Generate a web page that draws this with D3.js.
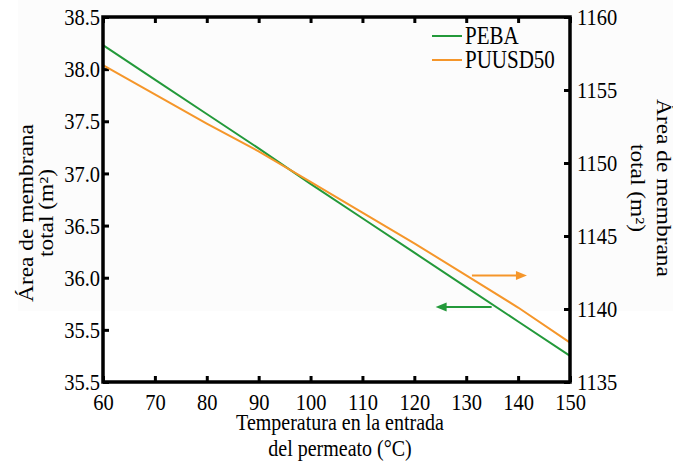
<!DOCTYPE html>
<html>
<head>
<meta charset="utf-8">
<script src="https://cdn.jsdelivr.net/npm/d3@7"></script>
<style>
  html, body { margin: 0; padding: 0; background: #fff; }
  svg { display: block; }
  svg text { font-family: "Liberation Serif", serif !important; }
</style>
</head>
<body>
<svg id="chart"></svg>
<script>
// data
const temps = [60, 70, 80, 90, 100, 110, 120, 130, 140, 150];
const pebaArea = [38.23, 37.90, 37.57, 37.24, 36.90, 36.57, 36.24, 35.91, 35.58, 35.25];
const puusdArea = [1156.7, 1154.7, 1152.7, 1150.8, 1148.7, 1146.6, 1144.5, 1142.3, 1140.1, 1137.7];

const xTicks = [60, 70, 80, 90, 100, 110, 120, 130, 140, 150];
const leftTicks = [35.0, 35.5, 36.0, 36.5, 37.0, 37.5, 38.0, 38.5];
const leftTickLabels = ["35.5", "35.5", "36.0", "36.5", "37.0", "37.5", "38.0", "38.5"];
const rightTicks = [1135, 1140, 1145, 1150, 1155, 1160];

const seriesNames = ["PEBA", "PUUSD50"];

// arrows: [x0, x1, y] in data units (green on left axis, orange on right axis)
const pebaArrow = [134.9, 124.1, 35.72];
const puusdArrow = [131.1, 141.7, 1142.3];

const width = 673;
const height = 466;
const margin = { top: 17, right: 103, bottom: 84, left: 103 };

const green = "#23993a";
const orange = "#f5962a";
const fontFamily = "Liberation Serif";
const stretch = "scale(1,1.17)";

const svg = d3.select("#chart").attr("width", width).attr("height", height);

svg.append("rect").attr("width", width).attr("height", height).attr("fill", "#fff");
// faint grey patch of the original scan
svg.append("rect").attr("x", 18).attr("y", 0).attr("width", width - 18).attr("height", 311).attr("fill", "#fcfcfc");

const x = d3.scaleLinear().domain([60, 150]).range([margin.left, width - margin.right]);
const yLeft = d3.scaleLinear().domain([35, 38.5]).range([height - margin.bottom, margin.top]);
const yRight = d3.scaleLinear().domain([1135, 1160]).range([height - margin.bottom, margin.top]);

const plotBottom = height - margin.bottom;
const plotRight = width - margin.right;

const styleAxis = (g) => {
  g.attr("font-family", null).attr("font-size", null);
  g.select(".domain").remove();
  g.selectAll("line").attr("stroke", "#000").attr("stroke-width", 3);
  g.selectAll("text")
    .attr("fill", "#000")
    .attr("font-family", fontFamily)
    .attr("font-size", 20.5)
    .attr("transform", stretch);
};

// bottom axis
svg.append("g")
  .attr("transform", `translate(0,${plotBottom})`)
  .call(d3.axisBottom(x).tickValues(xTicks).tickFormat(d3.format("d"))
    .tickSizeInner(-6).tickSizeOuter(0).tickPadding(9))
  .call(styleAxis);

// top ticks
svg.append("g")
  .attr("transform", `translate(0,${margin.top})`)
  .call(d3.axisTop(x).tickValues(xTicks).tickFormat("")
    .tickSizeInner(-6).tickSizeOuter(0))
  .call(styleAxis);

// left axis
svg.append("g")
  .attr("transform", `translate(${margin.left},0)`)
  .call(d3.axisLeft(yLeft).tickValues(leftTicks)
    .tickFormat((d, i) => leftTickLabels[i])
    .tickSizeInner(-6).tickSizeOuter(0).tickPadding(3))
  .call(styleAxis);

// right axis
svg.append("g")
  .attr("transform", `translate(${plotRight},0)`)
  .call(d3.axisRight(yRight).tickValues(rightTicks).tickFormat(d3.format("d"))
    .tickSizeInner(-6).tickSizeOuter(0).tickPadding(7))
  .call(styleAxis);

// lines
const pebaLine = d3.line().x((d, i) => x(temps[i])).y((d) => yLeft(d));
const puusdLine = d3.line().x((d, i) => x(temps[i])).y((d) => yRight(d));

svg.append("path").datum(pebaArea).attr("d", pebaLine)
  .attr("fill", "none").attr("stroke", green).attr("stroke-width", 2);
svg.append("path").datum(puusdArea).attr("d", puusdLine)
  .attr("fill", "none").attr("stroke", orange).attr("stroke-width", 2);

// arrows
const drawArrow = (x0, x1, yPix, color) => {
  const dir = x1 > x0 ? 1 : -1;
  svg.append("line")
    .attr("x1", x0).attr("x2", x1 - dir * 8).attr("y1", yPix).attr("y2", yPix)
    .attr("stroke", color).attr("stroke-width", 2);
  svg.append("path")
    .attr("d", `M${x1},${yPix} L${x1 - dir * 11},${yPix - 4.5} L${x1 - dir * 11},${yPix + 4.5} Z`)
    .attr("fill", color);
};
drawArrow(x(pebaArrow[0]), x(pebaArrow[1]), yLeft(pebaArrow[2]), green);
drawArrow(x(puusdArrow[0]), x(puusdArrow[1]), yRight(puusdArrow[2]), orange);

// frame
svg.append("rect")
  .attr("x", margin.left).attr("y", margin.top)
  .attr("width", plotRight - margin.left).attr("height", plotBottom - margin.top)
  .attr("fill", "none").attr("stroke", "#000").attr("stroke-width", 3.5);

// legend
const legendColors = [green, orange];
const legend = svg.append("g");
seriesNames.forEach((name, i) => {
  const ly = 36 + i * 24;
  legend.append("line")
    .attr("x1", 432).attr("x2", 462).attr("y1", ly).attr("y2", ly)
    .attr("stroke", legendColors[i]).attr("stroke-width", 2);
  legend.append("text")
    .attr("transform", `translate(465,${ly}) ${stretch}`)
    .attr("dy", "0.34em")
    .attr("font-size", 21)
    .text(name);
});

// x title
const xTitle = ["Temperatura en la entrada", "del permeato (°C)"];
xTitle.forEach((t, i) => {
  svg.append("text")
    .attr("transform", `translate(340,${430 + i * 26}) ${stretch}`)
    .attr("text-anchor", "middle")
    .attr("font-size", 20)
    .text(t);
});

// left title
const leftTitle = svg.append("g").attr("transform", "translate(0,213) rotate(-90) scale(1.17,1)");
leftTitle.append("text").attr("y", 33).attr("text-anchor", "middle")
  .attr("font-size", 20).text("Área de membrana");
leftTitle.append("text").attr("y", 53).attr("text-anchor", "middle")
  .attr("font-size", 20).text("total (m²)");

// right title
const rightTitle = svg.append("g").attr("transform", "translate(0,188) rotate(90) scale(1.17,1)");
rightTitle.append("text").attr("y", -657).attr("text-anchor", "middle")
  .attr("font-size", 20).text("Área de membrana");
rightTitle.append("text").attr("y", -631).attr("text-anchor", "middle")
  .attr("font-size", 20).text("total (m²)");
</script>
</body>
</html>
